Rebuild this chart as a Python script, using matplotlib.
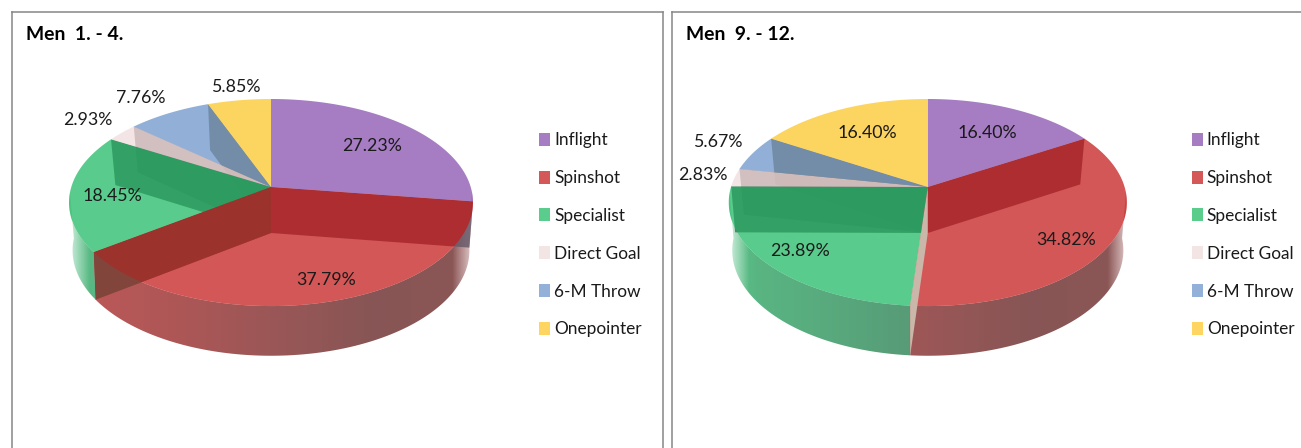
import numpy as np
import matplotlib
matplotlib.use("Agg")
import matplotlib.pyplot as plt
from matplotlib.patches import Polygon, Patch

plt.rcParams['font.family'] = ['Lato', 'DejaVu Sans']

categories = ["Inflight", "Spinshot", "Specialist", "Direct Goal", "6-M Throw", "Onepointer"]
men_1_4 = [27.23, 37.79, 18.45, 2.93, 7.76, 5.85]
men_9_12 = [16.40, 34.82, 23.89, 2.83, 5.67, 16.40]
titles = ["Men  1. - 4.", "Men  9. - 12."]

# styling
colors = [(166, 125, 195), (212, 88, 88), (90, 204, 140), (244, 229, 229), (146, 176, 216), (253, 213, 96)]
side_dark = [(105, 85, 120), (110, 85, 85), (85, 110, 100), (170, 155, 155), (90, 105, 125), (140, 120, 70)]
wall_under = [(105, 90, 105), (105, 90, 105), (105, 90, 105), (125, 110, 110), (135, 120, 75), (135, 120, 75)]
WALL_FRONT_LEFT = (120, 68, 60)
WALL_FRONT_OVER = (140, 70, 60)
TAN = (203, 183, 170)
TOP_ALPHA = 0.70
PX = 0.72  # points per pixel at dpi 100

label_xy_1 = [(372, 144), (326, 278), (112, 194), (88, 118), (141, 96), (236, 85)]
label_xy_2 = [(987, 131), (1066, 238), (800, 249), (703, 173), (718, 140), (867, 131)]


def c01(c):
    return tuple(np.clip(np.array(c) / 255.0, 0, 1))


def top_pt(th, cx, A):
    u, v = np.sin(th), np.cos(th)
    w = 1 + 0.15 * v
    return cx + A * u / w, 187 - 101.2 * v / w


def base_pt(th, cx, A):
    u, v = np.sin(th), np.cos(th)
    w = 1 + 0.165 * v
    return cx + 0.98 * A * u / w, 233 - 102.5 * v / w


def side_colour(i, t):
    s = np.interp(t, [-1, -0.85, -0.4, 0, 0.5, 0.9, 1], [0.1, 0.25, 0.4, 0.56, 0.75, 0.72, 0.6])
    col = (1 - s) * np.array(colors[i], float) + s * np.array(side_dark[i], float)
    fade = np.interp(abs(t), [0.9, 1.0], [0, 0.72])
    col = (1 - fade) * col + fade * 255
    return np.clip(col / 255.0, 0, 1)


def draw_pie(ax, values, cx, A, label_xy):
    vals = np.array(values, float)
    edges = np.concatenate([[0], np.cumsum(vals) / vals.sum() * 2 * np.pi])
    rx = A * 1.0114

    # front outer wall: horizontal gradient clipped to the wall's outline
    ts = np.linspace(-1, 1, 500)
    for i in range(len(vals)):
        a0, a1 = max(edges[i], np.radians(93)), min(edges[i + 1], np.radians(267))
        if a1 <= a0:
            continue
        ths = np.linspace(a0, a1, 120)
        outline = [top_pt(t, cx, A) for t in ths] + [base_pt(t, cx, A) for t in ths[::-1]]
        img = np.array([[side_colour(i, t) for t in ts]])
        im = ax.imshow(img, extent=(cx - rx, cx + rx, 400, 150), aspect='auto',
                       interpolation='bilinear', zorder=1)
        clip = Polygon(outline, closed=True, transform=ax.transData)
        im.set_clip_path(clip)

    # radial walls, far ones first
    order = sorted(range(len(vals)), key=lambda j: -np.cos(edges[j]))
    frontal = []
    front_left = []
    for j in order:
        th = edges[j]
        if abs(np.sin(th)) < 0.15 and np.cos(th) < 0:
            frontal.append(th)
            continue
        p = [(cx, 187), top_pt(th, cx, A), base_pt(th, cx, A), (cx, 233)]
        if np.sin(th) < 0 and np.cos(th) < 0:
            col, al = WALL_FRONT_LEFT, 1.0
            front_left.append(p)
        else:
            idx = j if np.sin(th) >= 0 else j - 1
            col, al = wall_under[idx], 0.85
        ax.add_patch(Polygon(p, closed=True, facecolor=c01(col), edgecolor='none', alpha=al, zorder=2))

    # top faces
    for i in range(len(vals)):
        ths = np.linspace(edges[i], edges[i + 1], 200)
        pts = [(cx, 187)] + [top_pt(t, cx, A) for t in ths]
        c = (np.array(colors[i], float) - (1 - TOP_ALPHA) * 255) / TOP_ALPHA
        ax.add_patch(Polygon(pts, closed=True, facecolor=c01(c), edgecolor='none', alpha=TOP_ALPHA, zorder=3))

    for p in front_left:
        ax.add_patch(Polygon(p, closed=True, facecolor=c01(WALL_FRONT_OVER), edgecolor='none', alpha=0.5, zorder=4))

    for th in frontal:
        p = [(cx, 187), top_pt(th, cx, A), base_pt(th, cx, A), (cx, 233)]
        ax.add_patch(Polygon(p, closed=True, facecolor=c01(TAN), edgecolor='none', zorder=4))

    for v, (x, y) in zip(values, label_xy):
        ax.text(x, y + 1.5, f"{v:.2f}%", ha='center', va='center', fontsize=17.8 * PX, color='#1a1a1a', zorder=5)


fig = plt.figure(figsize=(13.01, 4.48), dpi=100, facecolor='white')
W, H = 1301.0, 448.0
panels = [(12.0, 663.0, men_1_4, 271.0, 199.7, label_xy_1, 26, 539),
          (672.0, 1305.0, men_9_12, 927.8, 196.8, label_xy_2, 686, 1191.5)]

for k, (x0, x1, vals, cx, A, lab, tx, lx) in enumerate(panels):
    ax = fig.add_axes([x0 / W, 0, (x1 - x0) / W, (H - 12.5) / H])
    ax.set_xticks([])
    ax.set_yticks([])
    ax.spines['bottom'].set_visible(False)
    for s in ('top', 'left', 'right'):
        ax.spines[s].set_color('#868686')
        ax.spines[s].set_linewidth(1.1)
    draw_pie(ax, vals, cx, A, lab)
    ax.set_xlim(x0, x1)
    ax.set_ylim(H, 12.5)
    ax.text(tx, 34, titles[k], ha='left', va='center', fontsize=19.4 * PX, fontweight='bold', color='black')
    handles = [Patch(facecolor=c01(c), edgecolor='none') for c in colors]
    ax.legend(handles, categories, loc='center left',
              bbox_to_anchor=((lx - x0) / (x1 - x0), 1 - (234.8 - 12.5) / (H - 12.5)),
              frameon=False, fontsize=17.2 * PX, labelspacing=1.27, handlelength=0.64,
              handleheight=0.78, handletextpad=0.25, borderpad=0, borderaxespad=0,
              labelcolor='#1a1a1a')

fig.savefig("out.png", dpi=100)
